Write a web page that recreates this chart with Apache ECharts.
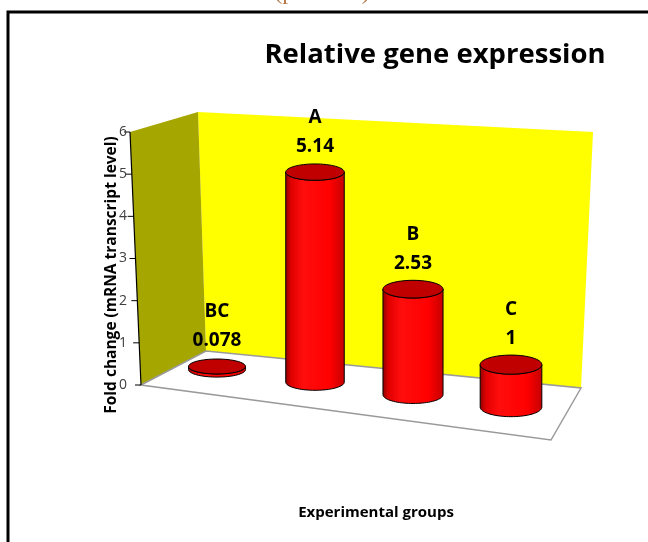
<!DOCTYPE html>
<html>
<head>
<meta charset="utf-8">
<script src="https://cdn.jsdelivr.net/npm/echarts@6/dist/echarts.min.js"></script>
<style>
  html, body { margin: 0; padding: 0; background: #fff; }
  #chart { width: 648px; height: 542px; }
</style>
</head>
<body>
<div id="chart"></div>
<script>
// Groups and their relative expression (fold change vs. control)
const categories = ['BC', 'A', 'B', 'C'];
const foldChange = [0.078, 5.14, 2.53, 1];
const yTicks = [0, 1, 2, 3, 4, 5, 6];

const FONT = '"Open Sans", "Liberation Sans", sans-serif';

// Pseudo-3D layout of the box (walls, floor) relative to the value scale
const BOX = {
  axisBottomX: 141, axisTopX: 130,
  backLeftTopX: 198, backLeftTopDy: -20,
  backLeftBottomX: 206, backLeftBottomDy: -34,
  backRightTopX: 593, backRightTopDy: 0,
  backRightBottomX: 581, backRightBottomDy: 3,
  frontRightX: 551, frontRightDy: 55
};
// Where cylinders stand on the floor and how they shrink with distance
const FLOOR = { refX: 220, baseOffset: -15, slope: 0.1276 };

function ellipseArc(cx, cy, rx, ry, a0, a1, n) {
  const pts = [];
  for (let k = 0; k <= n; k++) {
    const a = a0 + (a1 - a0) * k / n;
    pts.push([cx + rx * Math.cos(a), cy + ry * Math.sin(a)]);
  }
  return pts;
}

function renderFrame(params, api) {
  const y0 = api.coord([0, 0])[1];
  const y6 = api.coord([0, 6])[1];
  const b = BOX;
  const children = [];
  const sideWall = [
    [b.axisBottomX, y0], [b.axisTopX, y6],
    [b.backLeftTopX, y6 + b.backLeftTopDy], [b.backLeftBottomX, y0 + b.backLeftBottomDy]
  ];
  const backWall = [
    [b.backLeftTopX, y6 + b.backLeftTopDy], [b.backRightTopX, y6 + b.backRightTopDy],
    [b.backRightBottomX, y0 + b.backRightBottomDy], [b.backLeftBottomX, y0 + b.backLeftBottomDy]
  ];
  const floor = [
    [b.axisBottomX, y0], [b.backLeftBottomX, y0 + b.backLeftBottomDy],
    [b.backRightBottomX, y0 + b.backRightBottomDy], [b.frontRightX, y0 + b.frontRightDy]
  ];
  children.push({ type: 'polygon', shape: { points: backWall }, style: { fill: '#FFFF00' } });
  children.push({ type: 'polygon', shape: { points: sideWall }, style: { fill: '#A6A600' } });
  children.push({ type: 'polygon', shape: { points: floor },
    style: { fill: '#ffffff', stroke: '#9a9a9a', lineWidth: 1.5 } });
  // slanted value axis
  children.push({ type: 'line', shape: { x1: b.axisBottomX, y1: y0, x2: b.axisTopX, y2: y6 },
    style: { stroke: '#000', lineWidth: 1.2 } });
  yTicks.forEach(function (t) {
    const y = api.coord([0, t])[1];
    const x = b.axisBottomX + (b.axisTopX - b.axisBottomX) * (t / 6);
    children.push({ type: 'line', shape: { x1: x - 6, y1: y, x2: x, y2: y },
      style: { stroke: '#000', lineWidth: 1 } });
    children.push({ type: 'text', x: 127, y: y,
      style: { text: String(t), fill: '#404040', font: '14px ' + FONT,
        align: 'right', verticalAlign: 'middle' } });
  });
  return { type: 'group', children: children };
}

function renderCylinder(params, api) {
  const i = api.value(0), v = api.value(1);
  const p0 = api.coord([i, 0]);
  const pv = api.coord([i, v]);
  const cx = p0[0];
  const baseY = p0[1] + FLOOR.baseOffset + (cx - FLOOR.refX) * FLOOR.slope;
  const persp = 0.95 + (cx - FLOOR.refX) * 0.0002;
  const topY = baseY - (p0[1] - pv[1]) * persp;
  const rx = 28.5 + (cx - FLOOR.refX) * 0.008;
  const ry = 7.5 + (cx - FLOOR.refX) * 0.007;

  const body = [[cx - rx, topY]]
    .concat(ellipseArc(cx, baseY, rx, ry, Math.PI, 0, 40))
    .concat(ellipseArc(cx, topY, rx, ry, 0, Math.PI, 40));

  return {
    type: 'group',
    children: [
      { type: 'polygon', shape: { points: body },
        style: {
          fill: { type: 'linear', x: 0, y: 0, x2: 1, y2: 0, colorStops: [
            { offset: 0, color: '#8c0000' }, { offset: 0.1, color: '#e00000' },
            { offset: 0.3, color: '#ff0d0d' }, { offset: 0.75, color: '#ff0000' },
            { offset: 1, color: '#c40000' } ] },
          stroke: '#000', lineWidth: 1 } },
      { type: 'ellipse', shape: { cx: cx, cy: topY, rx: rx, ry: ry },
        style: { fill: '#C00000', stroke: '#000', lineWidth: 1 } },
      { type: 'text', x: cx, y: topY - 26,
        style: { text: String(v), fill: '#000', font: 'bold 19px ' + FONT,
          align: 'center', verticalAlign: 'middle' } },
      { type: 'text', x: cx, y: topY - 55,
        style: { text: categories[i], fill: '#000', font: 'bold 19px ' + FONT,
          align: 'center', verticalAlign: 'middle' } }
    ]
  };
}

const chart = echarts.init(document.getElementById('chart'), null, { renderer: 'canvas' });
chart.setOption({
  animation: false,
  backgroundColor: '#ffffff',
  grid: { left: 168, right: 88, top: 132, bottom: 157 },
  xAxis: {
    type: 'category', data: categories,
    axisLine: { show: false }, axisTick: { show: false },
    axisLabel: { show: false }, splitLine: { show: false }
  },
  yAxis: {
    type: 'value', min: 0, max: 6, interval: 1,
    axisLine: { show: false }, axisTick: { show: false },
    axisLabel: { show: false }, splitLine: { show: false }
  },
  graphic: [
    { type: 'text', x: 322, y: 5, z: 10,
      style: { text: '(p < 0.05)', fill: '#B4784A', font: '24px "Liberation Serif", serif',
        align: 'center', verticalAlign: 'bottom' } },
    { type: 'rect', shape: { x: 8, y: 12, width: 700, height: 600 },
      style: { fill: 'none', stroke: '#000', lineWidth: 3 } },
    { type: 'text', x: 435, y: 55,
      style: { text: 'Relative gene expression', fill: '#000', font: 'bold 27.5px ' + FONT,
        align: 'center', verticalAlign: 'middle' } },
    { type: 'text', x: 112, y: 275, rotation: Math.PI / 2, z: 10,
      style: { text: 'Fold change (mRNA transcript level)', fill: '#000', font: 'bold 15.5px ' + FONT,
        align: 'center', verticalAlign: 'middle' } },
    { type: 'text', x: 376, y: 513,
      style: { text: 'Experimental groups', fill: '#000', font: 'bold 15px ' + FONT,
        align: 'center', verticalAlign: 'middle' } }
  ],
  series: [
    { type: 'custom', name: 'frame', data: [[0, 0]], renderItem: renderFrame, z: 1, silent: true },
    { type: 'custom', name: 'Fold change',
      data: categories.map(function (c, k) { return [k, foldChange[k]]; }),
      encode: { x: 0, y: 1 }, renderItem: renderCylinder, z: 2 }
  ]
});
</script>
</body>
</html>
